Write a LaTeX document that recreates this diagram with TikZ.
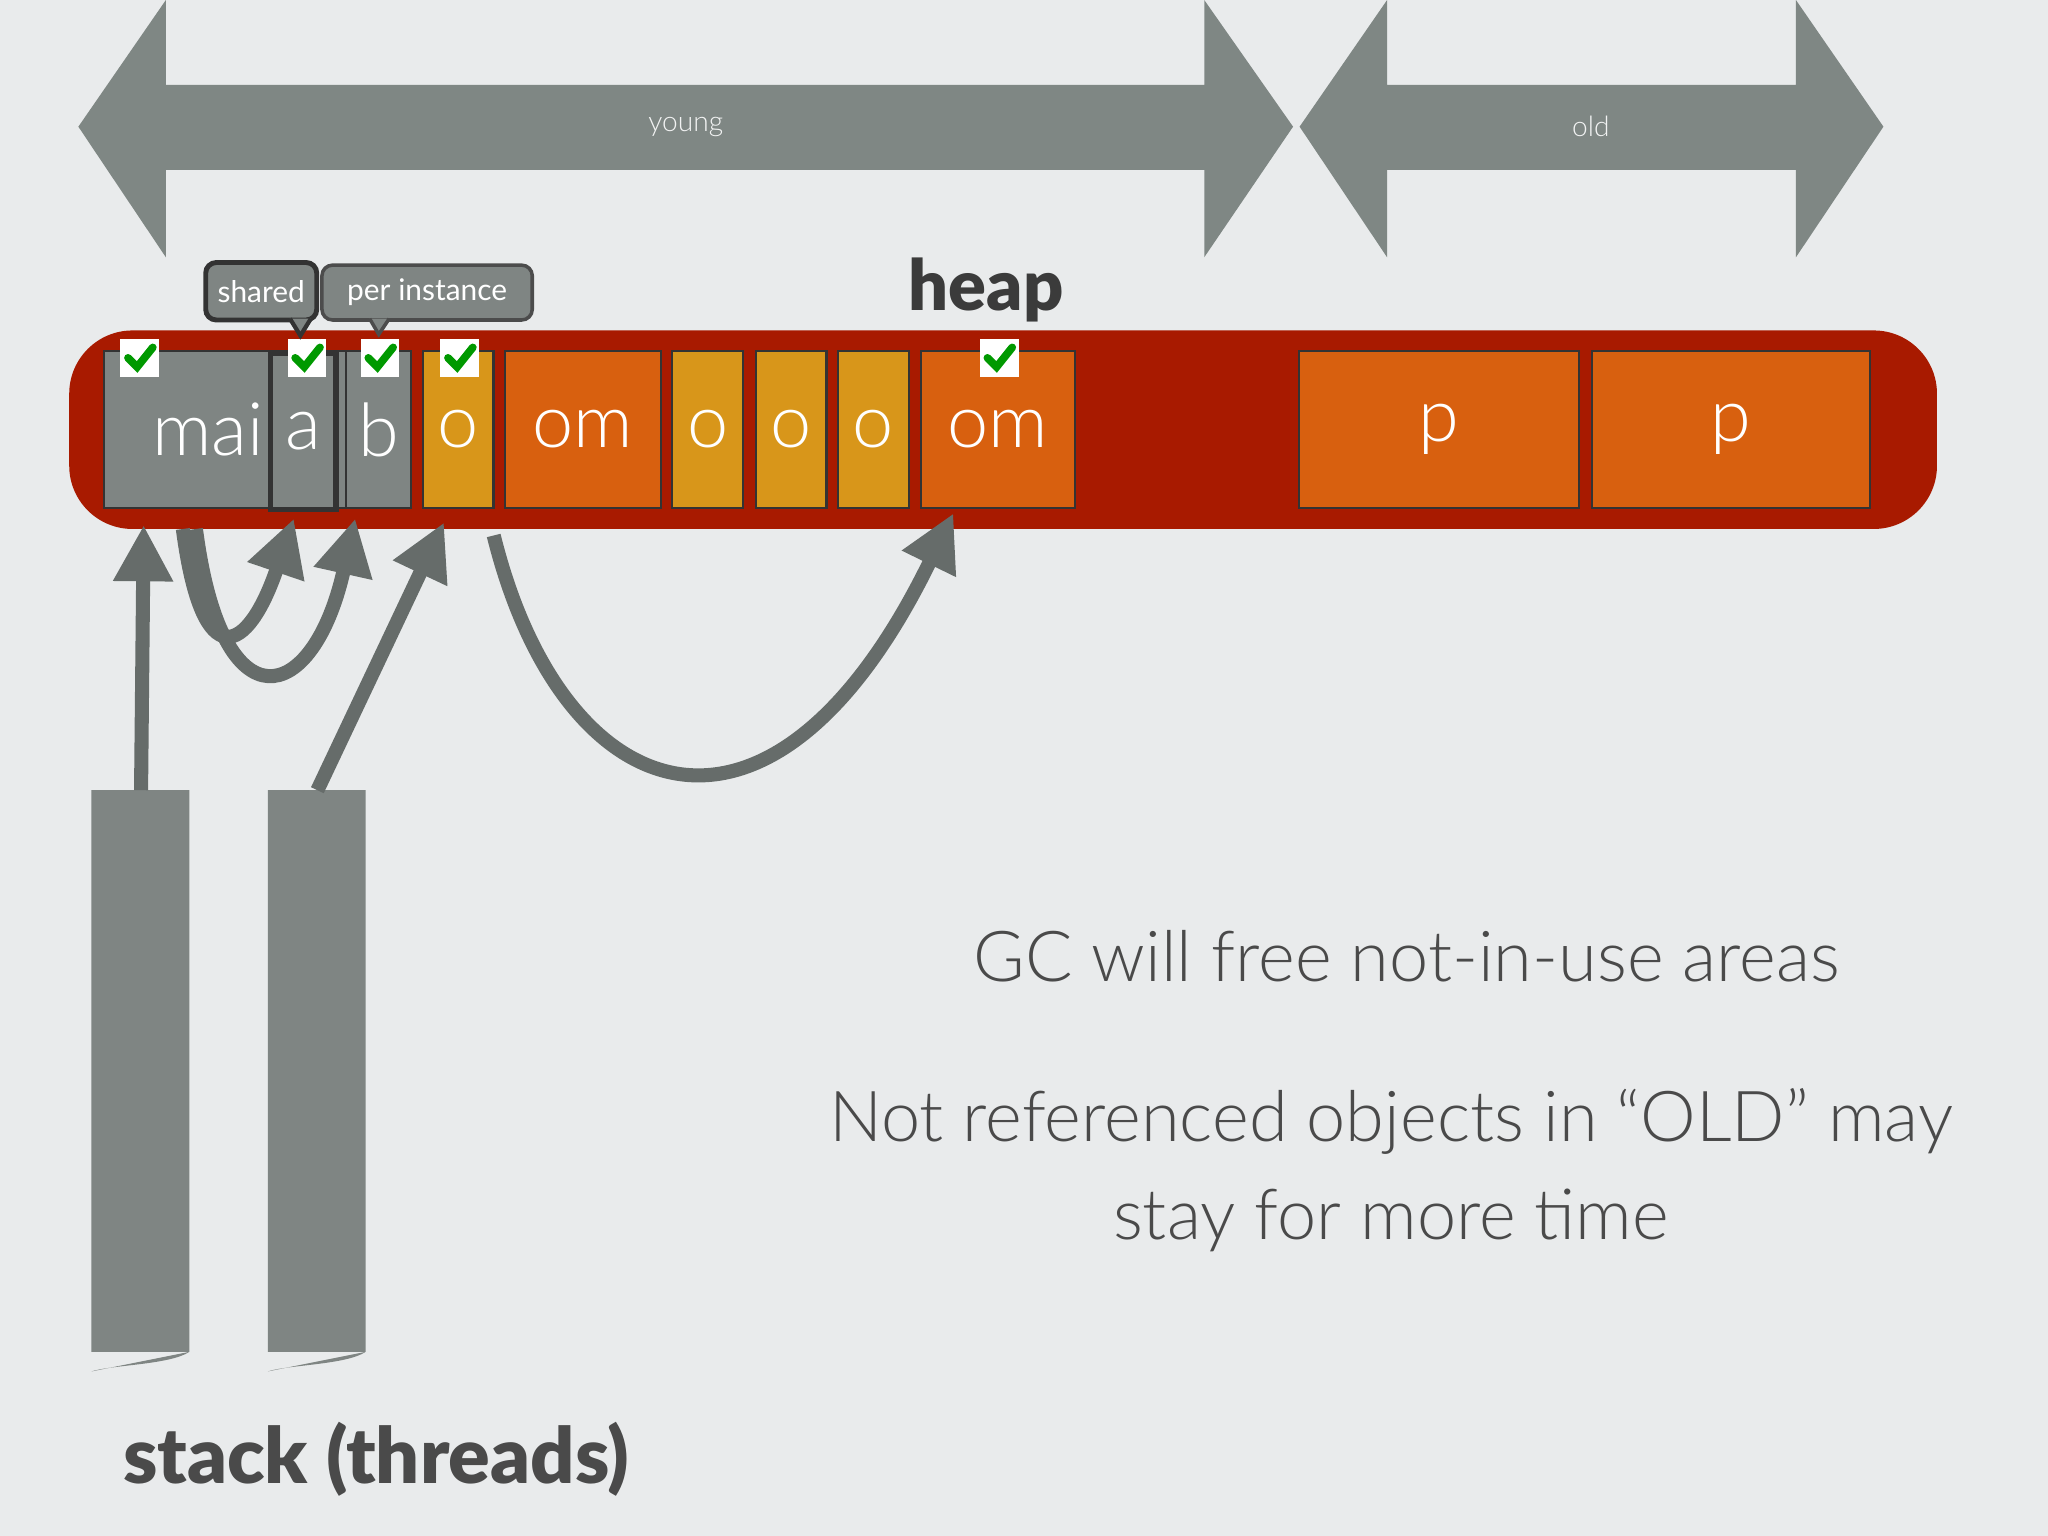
\documentclass[tikz,border=0pt]{standalone}
\usepackage{fontspec}
\setmainfont{Lato Light}
\newfontfamily\blk{Lato Black}
\newfontfamily\reg{Lato}
\usetikzlibrary{arrows.meta}
\definecolor{bg}{HTML}{E9EBEC}
\definecolor{ar}{HTML}{7F8784}
\definecolor{cg}{HTML}{7F8583}
\definecolor{hr}{HTML}{A81A00}
\definecolor{go}{HTML}{D8961A}
\definecolor{or}{HTML}{D8600F}
\definecolor{tx}{HTML}{4A4A4A}
\begin{document}
\begin{tikzpicture}[x=0.013061cm,y=-0.013061cm,
 cell/.style={draw=black!80,line width=0.6pt,anchor=north west,inner sep=0pt,text=white,font=\fontsize{21}{24}\selectfont},
 chk/.style={fill=white,minimum size=11pt,inner sep=0pt},
 ref/.style={draw=ar!80!black,line width=4pt,-{Triangle[length=16pt,width=16pt]}},
 call/.style={draw=black!80,fill=cg,line width=1.4pt,rounded corners=3pt,text=white,font=\reg\fontsize{8.5}{10}\selectfont,inner sep=3pt}]
\fill[bg] (0,0) rectangle (1568,1176);
\useasboundingbox (0,0) rectangle (1568,1176);
% generation arrows
\fill[ar] (60,97) -- (127,0) -- (127,65) -- (922,65) -- (922,0) -- (990,97) -- (922,197) -- (922,130) -- (127,130) -- (127,197) -- cycle;
\fill[ar] (995,97) -- (1062,0) -- (1062,65) -- (1375,65) -- (1375,0) -- (1442,97) -- (1375,197) -- (1375,130) -- (1062,130) -- (1062,197) -- cycle;
\node[text=white!90!ar,font=\fontsize{8}{10}\selectfont] (young) at (525,97) {young};
\node[text=white!90!ar,font=\fontsize{8}{10}\selectfont] (old) at (1218,97) {old};
% heap
\fill[hr,rounded corners=18pt] (53,253) rectangle (1483,405);
\node[font=\blk\fontsize{20}{24}\selectfont,text=tx!80!black] (heap) at (755,222) {heap};
\node[cell,fill=cg,minimum width=118\pgflinewidth,text width=118*0.013061cm,minimum height=120*0.013061cm,align=center] (main) at (79,268) {main};
\node[cell,fill=cg,line width=1.6pt,minimum width=50*0.013061cm,minimum height=120*0.013061cm] (a) at (205,268) {a};
\node[cell,fill=cg,minimum width=50*0.013061cm,minimum height=120*0.013061cm] (b) at (264,268) {b};
\node[cell,fill=go,minimum width=54*0.013061cm,minimum height=120*0.013061cm] (o1) at (323,268) {o};
\node[cell,fill=or,minimum width=119*0.013061cm,minimum height=120*0.013061cm] (om1) at (386,268) {om};
\node[cell,fill=go,minimum width=54*0.013061cm,minimum height=120*0.013061cm] (o2) at (514,268) {o};
\node[cell,fill=go,minimum width=54*0.013061cm,minimum height=120*0.013061cm] (o3) at (578,268) {o};
\node[cell,fill=go,minimum width=54*0.013061cm,minimum height=120*0.013061cm] (o4) at (641,268) {o};
\node[cell,fill=or,minimum width=118*0.013061cm,minimum height=120*0.013061cm] (om2) at (704,268) {om};
\node[cell,fill=or,minimum width=214*0.013061cm,minimum height=120*0.013061cm] (p1) at (994,268) {p};
\node[cell,fill=or,minimum width=213*0.013061cm,minimum height=120*0.013061cm] (p2) at (1218,268) {p};
% checks
\foreach \n/\x in {c1/107,c2/235,c3/291,c4/352,c5/765}{
 \node[chk] (\n) at (\x,274) {};
 \draw[green!60!black,line width=2.2pt,line cap=round] (\x-9,274) -- (\x-2,281) -- (\x+10,266);
}
% callouts
\node[call,minimum width=85*0.013061cm,minimum height=44*0.013061cm] (shared) at (200,223) {shared};
\fill[cg,draw=black!80,line width=1.2pt] (222,244) -- (230,257) -- (238,244);
\node[call,draw=black!70,line width=1pt,minimum width=161*0.013061cm,minimum height=42*0.013061cm] (per) at (327,224) {per instance};
\fill[cg,draw=black!70,line width=1pt] (283,244) -- (290,256) -- (298,244);
% stacks
\fill[cg] (70,605) rectangle (145,1035) .. controls (130,1045) and (85,1045) .. (70,1050) -- cycle;
\fill[cg] (205,605) rectangle (280,1035) .. controls (265,1045) and (220,1045) .. (205,1050) -- cycle;
\coordinate (s1) at (108,605);
\coordinate (s2) at (243,605);
\node[font=\blk\fontsize{22}{26}\selectfont,text=tx] (stack) at (288,1117) {stack (threads)};
% references
\draw[ref] (s1) -- (110,402);
\draw[ref] (140,405) .. controls (155,520) and (190,500) .. (225,397);
\draw[ref] (150,405) .. controls (170,560) and (240,540) .. (272,397);
\draw[ref] (s2) -- (340,400);
\draw[ref] (378,410) .. controls (430,620) and (590,680) .. (730,393);
% text
\node[text=tx,font=\fontsize{20}{24}\selectfont] (gc) at (1077,732) {GC will free not-in-use areas};
\node[text=tx,font=\fontsize{20}{24}\selectfont,align=center] (nr) at (1065,896) {Not referenced objects in “OLD” may\\[4pt]stay for more time};
\end{tikzpicture}
\end{document}
